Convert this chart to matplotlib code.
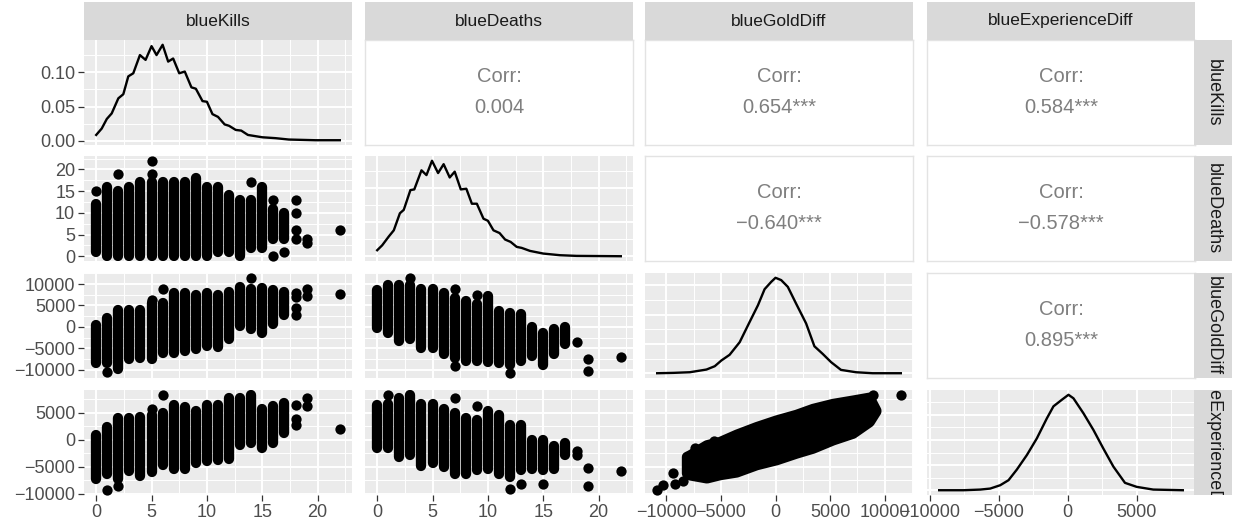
import matplotlib.pyplot as plt
from matplotlib.ticker import FixedLocator, FixedFormatter

plt.rcParams['font.family'] = ['Liberation Sans', 'DejaVu Sans']

# variables of the pairs plot
variables = ['blueKills', 'blueDeaths', 'blueGoldDiff', 'blueExperienceDiff']
var_min = [0, 0, -10830, -9333]
var_max = [22, 22, 11467, 8348]
major_breaks = [[0, 5, 10, 15, 20], [0, 5, 10, 15, 20],
                [-10000, -5000, 0, 5000, 10000], [-10000, -5000, 0, 5000]]

# upper triangle: correlations
corr_values = {(0, 1): 0.004, (0, 2): 0.654, (0, 3): 0.584,
               (1, 2): -0.640, (1, 3): -0.578, (2, 3): 0.895}
corr_stars = {(0, 1): '', (0, 2): '***', (0, 3): '***',
              (1, 2): '***', (1, 3): '***', (2, 3): '***'}

# diagonal: densities
kills_dens_x = [0, 0.5, 0.96, 1.4, 2, 2.45, 2.9, 3.35, 3.95, 4.46, 5.0, 5.45, 6.0, 6.5, 6.95, 7.5, 8.0,
                8.6, 9.0, 9.6, 10, 10.5, 11, 11.6, 12, 12.6, 13.1, 13.7, 15, 16.2, 17.4, 19.8, 22]
kills_dens_y = [0.0087, 0.018, 0.032, 0.040, 0.062, 0.068, 0.094, 0.0985, 0.125, 0.118, 0.138, 0.125,
                0.140, 0.1155, 0.120, 0.0985, 0.101, 0.078, 0.076, 0.058, 0.057, 0.039, 0.035, 0.024,
                0.022, 0.016, 0.015, 0.0087, 0.0053, 0.004, 0.002, 0.001, 0.001]
deaths_dens_x = [0, 0.45, 1.05, 1.5, 2.05, 2.4, 3.0, 3.35, 4.0, 4.45, 4.95, 5.5, 6.0, 6.55, 7.0, 7.55,
                 8.05, 8.55, 9.0, 9.6, 10.0, 10.5, 11.05, 11.55, 12.05, 12.6, 13.05, 13.8, 15.0, 16.5,
                 18.0, 22.0]
deaths_dens_y = [0.0088, 0.016, 0.029, 0.038, 0.063, 0.068, 0.097, 0.098, 0.126, 0.119, 0.140, 0.122,
                 0.135, 0.1155, 0.124, 0.098, 0.099, 0.077, 0.077, 0.055, 0.052, 0.038, 0.034, 0.0245,
                 0.021, 0.0137, 0.0122, 0.0078, 0.0039, 0.0015, 0.0005, 0.0]
gold_dens_x = [-10830, -9360, -7840, -6320, -5560, -4960, -4200, -3280, -2370, -1610, -1000, -395, 0,
               520, 1125, 1880, 2800, 3560, 4320, 5080, 5990, 7360, 8880, 11467]
gold_dens_y_1e5 = [0, 0.06, 0.17, 0.63, 1.2, 2.17, 3.15, 5.3, 8.75, 11.6, 14.35, 15.6, 16.3, 15.9,
                   14.75, 11.9, 8.5, 4.6, 3.3, 1.9, 0.57, 0.17, 0.0, 0.0]
exp_dens_x = [-9333, -7560, -6350, -5630, -4900, -4300, -3700, -2970, -2250, -1520, -1040, -435, 50,
              410, 1140, 1860, 2580, 3310, 4150, 5000, 6200, 8348]
exp_dens_y_1e5 = [0, 0, 0.13, 0.33, 1.0, 2.0, 4.1, 7.0, 10.3, 14.3, 16.7, 18.0, 19.0, 18.3, 15.3,
                  12.0, 8.3, 4.7, 1.47, 0.67, 0.13, 0]

# lower triangle: point columns (range of y per integer x) plus single points
counts = list(range(18))
kd_lo = [1, 0, 0, 0, 0, 0, 0, 0, 0, 0, 0, 1, 1, 0, 2, 2, 4, 4]
kd_hi = [12, 16, 15, 16, 17, 17, 17, 17, 17, 18, 16, 16, 14, 13, 13, 16, 11, 10]
kd_px = [0, 2, 5, 5, 14, 16, 16, 17, 18, 18, 18, 18, 19, 19, 22]
kd_py = [15, 19, 19, 22, 17, 13, 0, 1, 13, 10, 6, 4, 3, 4, 6]

kg_lo = [-8500, -8500, -9800, -7500, -7200, -7400, -6000, -6000, -5600, -5100, -4500, -4600, -2900,
         150, -600, -1500, 700, 2800]
kg_hi = [500, 2000, 4000, 4000, 4000, 5500, 5500, 8000, 8000, 7500, 7800, 7500, 8200, 9200, 8800,
         9000, 8600, 8200]
kg_px = [1, 5, 6, 14, 18, 18, 18, 18, 19, 19, 22]
kg_py = [-10600, 6300, 8800, 11467, 7800, 7000, 4500, 2800, 8800, 7200, 7700]

ke_lo = [-7200, -6400, -7200, -5800, -6700, -6000, -4600, -5400, -5400, -4300, -4000, -3700, -3600,
         -900, -600, -1500, -500, 1200]
ke_hi = [900, 2450, 4000, 4000, 4300, 4600, 4900, 6400, 6000, 5300, 6400, 6400, 7800, 7800, 8348,
         5800, 6200, 6900]
ke_px = [1, 2, 5, 6, 18, 18, 18, 19, 19, 22]
ke_py = [-9200, -8500, 5800, 8348, 6400, 3800, 2700, 7800, 6300, 2000]

dg_lo = [-200, -1400, -3300, -2900, -4900, -4900, -6400, -7200, -8000, -8000, -8100, -8400, -8800,
         -8000, -6800, -8800, -6400, -4100]
dg_hi = [8700, 9700, 9700, 9700, 8900, 8900, 7900, 6700, 6000, 5300, 7100, 3600, 3300, 2900, -100,
         -1400, -600, -100]
dg_px = [3, 7, 7, 9, 12, 18, 19, 19, 22]
dg_py = [11467, 8900, -9100, 7400, -10700, -3500, -7600, -10200, -7100]

de_lo = [-1500, -1500, -3200, -2900, -4800, -4300, -5000, -6300, -6300, -5500, -5400, -6300, -6900,
         -5600, -5400, -5500, -5400, -2900]
de_hi = [6400, 6700, 7700, 8300, 6600, 6600, 5800, 4900, 4000, 3700, 5400, 4600, 2800, 2800, 0, -100,
         -1200, -500]
de_px = [1, 7, 9, 12, 13, 15, 18, 18, 19, 19, 22]
de_py = [8348, 7700, 6300, -9100, -8100, -8100, -2100, -2800, -5200, -8500, -5800]

# gold vs experience: the dense cloud (lower / upper edge) plus stray points
ge_gold = [-8150, -7840, -6320, -5100, -3590, -1760, 60, 1880, 3400, 5230, 7050, 8570, 9180]
ge_lo = [-6130, -6500, -7050, -6440, -5950, -4600, -3680, -2450, -1530, 0, 1230, 3370, 5330]
ge_hi = [-3070, -2760, -920, -300, 1040, 2450, 3680, 4720, 5820, 6740, 7360, 7900, 5520]
ge_px = [-10830, -10280, -9360, -9210, -8510, 11467, 8880, 7510, -7400, -5600, -2500, 4300]
ge_py = [-9333, -8280, -6130, -8150, -7660, 8300, 8348, 2150, -1600, -300, 1500, 1000]

lower_columns = {
    (1, 0): (kd_lo, kd_hi, kd_px, kd_py),
    (2, 0): (kg_lo, kg_hi, kg_px, kg_py),
    (3, 0): (ke_lo, ke_hi, ke_px, ke_py),
    (2, 1): (dg_lo, dg_hi, dg_px, dg_py),
    (3, 1): (de_lo, de_hi, de_px, de_py),
}

# ---- layout (pixels) ----
W, H = 1233, 527
col_left = [84, 365, 645, 927]
row_top = [40, 156, 273, 390]
pw, ph = 268, 105
point_size = 7.4

fig = plt.figure(figsize=(W / 100, H / 100), dpi=100)


def add_box(x0, y0, w, h):
    return fig.add_axes([x0 / W, 1 - (y0 + h) / H, w / W, h / H])


def expand(lo, hi):
    r = hi - lo
    return lo - 0.05 * r, hi + 0.05 * r


def minor_of(breaks, lo, hi):
    step = breaks[1] - breaks[0]
    m = [b + step / 2 for b in [breaks[0] - step] + breaks]
    return [v for v in m if lo <= v <= hi]


def num_label(v):
    return ('%g' % v).replace('-', '\u2212')


def grid_setup(ax, xb, xlim, yb, ylim):
    ax.set_facecolor('#EBEBEB')
    for s in ax.spines.values():
        s.set_visible(False)
    ax.set_xlim(*xlim)
    ax.set_ylim(*ylim)
    ax.xaxis.set_major_locator(FixedLocator(xb))
    ax.yaxis.set_major_locator(FixedLocator(yb))
    ax.xaxis.set_minor_locator(FixedLocator(minor_of(xb, *xlim)))
    ax.yaxis.set_minor_locator(FixedLocator(minor_of(yb, *ylim)))
    ax.set_axisbelow(True)
    ax.grid(which='major', color='white', lw=1.4)
    ax.grid(which='minor', color='white', lw=0.7)
    ax.tick_params(which='minor', length=0)
    ax.tick_params(which='major', length=4.3, width=0.9, color='#333333',
                   labelsize=13, labelcolor='#4D4D4D', pad=2)


dens_data = [
    (kills_dens_x, kills_dens_y, [0, 0.05, 0.10]),
    (deaths_dens_x, deaths_dens_y, [0, 0.05, 0.10]),
    (gold_dens_x, [v * 1e-5 for v in gold_dens_y_1e5], [0, 5e-5, 1e-4, 1.5e-4]),
    (exp_dens_x, [v * 1e-5 for v in exp_dens_y_1e5], [0, 5e-5, 1e-4, 1.5e-4]),
]

for i in range(4):
    for j in range(4):
        ax = add_box(col_left[j], row_top[i], pw, ph)
        xlim = expand(var_min[j], var_max[j])
        if i < j:
            ax.set_facecolor('white')
            for s in ax.spines.values():
                s.set_color('#E3E3E3')
                s.set_linewidth(1)
            ax.set_xticks([])
            ax.set_yticks([])
            val = ('%.3f' % corr_values[(i, j)]).replace('-', '\u2212') + corr_stars[(i, j)]
            ax.text(0.5, 0.65, 'Corr:', ha='center', va='center', fontsize=14.5,
                    color='#7F7F7F', transform=ax.transAxes)
            ax.text(0.5, 0.36, val, ha='center', va='center', fontsize=14.5,
                    color='#7F7F7F', transform=ax.transAxes)
            continue
        if i == j:
            dx, dy, yb = dens_data[i]
            ylim = expand(min(dy), max(dy))
            grid_setup(ax, major_breaks[j], xlim, yb, ylim)
            ax.plot(dx, dy, color='black', lw=1.7, solid_joinstyle='round')
            if i == 0:
                ax.yaxis.set_major_formatter(FixedFormatter(['0.00', '0.05', '0.10']))
        else:
            ylim = expand(var_min[i], var_max[i])
            grid_setup(ax, major_breaks[j], xlim, major_breaks[i], ylim)
            if (i, j) == (3, 2):
                poly = ax.fill_between(ge_gold, ge_lo, ge_hi, facecolor='black',
                                       edgecolor='black', lw=point_size)
                poly.set_joinstyle('round')
                ax.plot(ge_px, ge_py, 'o', color='black', ms=point_size, mew=0)
            else:
                lo, hi, px, py = lower_columns[(i, j)]
                ax.vlines(counts, lo, hi, colors='black', lw=point_size, capstyle='round')
                ax.plot(px, py, 'o', color='black', ms=point_size, mew=0)
            ax.yaxis.set_major_formatter(FixedFormatter([num_label(v) for v in major_breaks[i]]))
        ax.xaxis.set_major_formatter(FixedFormatter([num_label(v) for v in major_breaks[j]]))
        if j > 0:
            ax.tick_params(left=False, labelleft=False)
        if i < 3:
            ax.tick_params(bottom=False, labelbottom=False)

# strips
for j, name in enumerate(variables):
    s = add_box(col_left[j], 2, pw, 38)
    s.set_facecolor('#D9D9D9')
    s.set_xticks([])
    s.set_yticks([])
    for sp in s.spines.values():
        sp.set_visible(False)
    s.text(0.5, 0.5, name, ha='center', va='center', fontsize=12.5, color='#1A1A1A',
           transform=s.transAxes)
for i, name in enumerate(variables):
    s = add_box(1194, row_top[i], 38, ph)
    s.set_facecolor('#D9D9D9')
    s.set_xticks([])
    s.set_yticks([])
    for sp in s.spines.values():
        sp.set_visible(False)
    s.text(0.5, 0.5, name, ha='center', va='center', rotation=-90, fontsize=13,
           color='#1A1A1A', transform=s.transAxes, clip_on=True)

fig.savefig('out.png', dpi=100, facecolor='white')
